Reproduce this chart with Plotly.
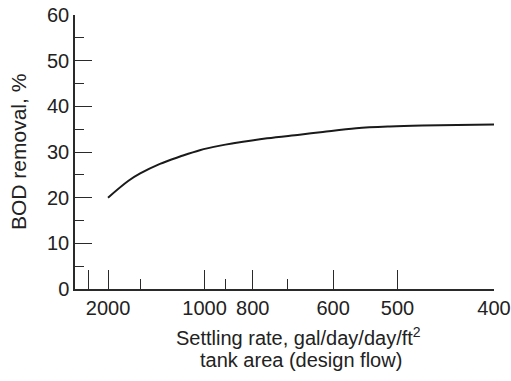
import plotly.graph_objects as go

# Data
settling_rate = [2000, 1650, 1500, 1300, 1145, 1025, 925, 870, 755, 670, 620, 560, 510, 470, 433, 400]
bod_removal = [20.0, 23.7, 25.3, 27.4, 29.0, 30.4, 31.4, 31.9, 33.0, 33.8, 34.4, 35.2, 35.6, 35.8, 35.9, 36.0]

major_rates = [2500, 2000, 1000, 800, 600, 500, 400]
major_labels = ["", "2000", "1000", "800", "600", "500", "400"]
minor_rates = [1500, 900, 700]

x_title_1 = "Settling rate, gal/day/day/ft<sup>2</sup>"
x_title_2 = "tank area (design flow)"
y_title = "BOD removal, %"


def inv(r):
    return 1000.0 / r


x_range = [inv(3040), inv(400)]

fig = go.Figure()
fig.add_trace(go.Scatter(
    x=[inv(r) for r in settling_rate],
    y=bod_removal,
    mode="lines",
    line=dict(color="#1a1a1a", width=2, shape="spline", smoothing=1.0),
    showlegend=False,
))

font_family = "Liberation Sans, Arial, sans-serif"
axis_color = "#2a2a2a"
text_color = "#222222"

W_L, W_R, H_T, H_B = 75, 494, 15, 289


def px_x(p):
    return (p - W_L) / (W_R - W_L)


def px_y(p):
    return (H_B - p) / (H_B - H_T)


fig.update_layout(
    width=511, height=381,
    margin=dict(l=75, r=17, t=15, b=92),
    paper_bgcolor="white", plot_bgcolor="white",
    font=dict(family=font_family, size=20, color=text_color),
    xaxis=dict(
        range=x_range,
        automargin=False,
        tickmode="array",
        tickvals=[inv(r) for r in major_rates],
        ticktext=major_labels,
        ticks="inside", ticklen=19, tickwidth=1.3, tickcolor=axis_color,
        minor=dict(tickmode="array", tickvals=[inv(r) for r in minor_rates],
                   ticks="inside", ticklen=10, tickwidth=1.3, tickcolor=axis_color,
                   showgrid=False),
        showline=True, linecolor=axis_color, linewidth=1.5,
        showgrid=False, zeroline=False,
        tickfont=dict(size=20),
    ),
    yaxis=dict(
        range=[0, 60],
        automargin=False,
        tickmode="linear", tick0=0, dtick=10,
        ticks="inside", ticklen=17, tickwidth=1.3, tickcolor=axis_color,
        minor=dict(dtick=5, ticks="inside", ticklen=9, tickwidth=1.3,
                   tickcolor=axis_color, showgrid=False),
        showline=True, linecolor=axis_color, linewidth=1.5,
        showgrid=False, zeroline=False,
        tickfont=dict(size=20),
    ),
    annotations=[
        dict(text=x_title_1, xref="paper", yref="paper",
             x=px_x(298), y=px_y(336),
             xanchor="center", yanchor="middle", showarrow=False,
             font=dict(size=20, color=text_color)),
        dict(text=x_title_2, xref="paper", yref="paper",
             x=px_x(301), y=px_y(360),
             xanchor="center", yanchor="middle", showarrow=False,
             font=dict(size=20, color=text_color)),
        dict(text=y_title, xref="paper", yref="paper",
             x=px_x(18), y=0.5, textangle=-90,
             xanchor="center", yanchor="middle", showarrow=False,
             font=dict(size=21, color=text_color)),
    ],
)

fig.write_html("out.html")
